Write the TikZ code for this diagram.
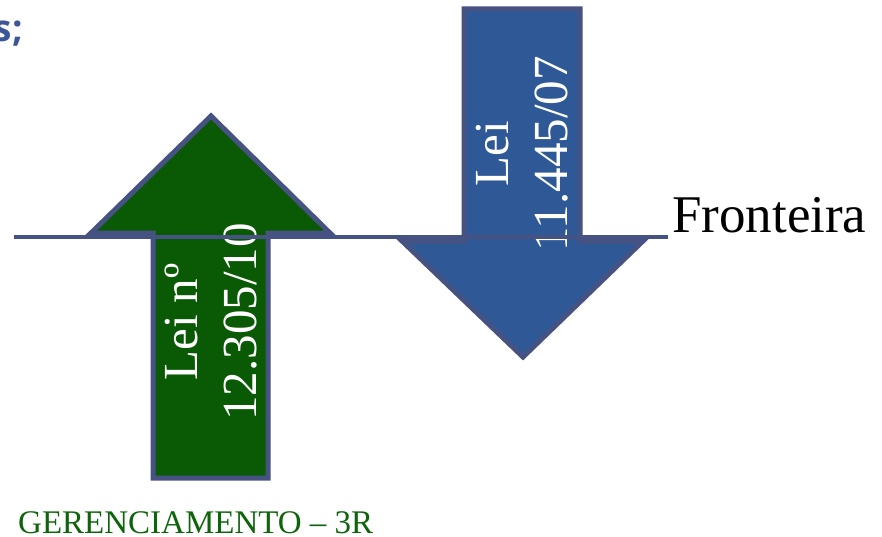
\documentclass[tikz,border=0pt]{standalone}
\usepackage{fontspec}
\setmainfont{Liberation Serif}
\newfontfamily\headsans{Open Sans}
\definecolor{lgreen}{RGB}{10,90,5}
\definecolor{lblue}{RGB}{47,89,150}
\definecolor{ledge}{RGB}{70,83,130}
\definecolor{ltitle}{RGB}{61,86,152}
\definecolor{lfoot}{RGB}{14,100,10}
\begin{document}
\begin{tikzpicture}[x=1pt,y=-1pt,
  arrowshape/.style={draw=ledge,line width=5pt,line join=miter},
  lawtext/.style={rotate=90,text=white,align=center,font=\fontsize{49}{59}\selectfont,inner sep=0pt},
  borderline/.style={draw=ledge,line width=4.5pt}]
\useasboundingbox (0,0) rectangle (882,537);
\clip (0,0) rectangle (882,537);
% green up arrow
\fill[lgreen] (153,478) -- (153,233) -- (91,233) -- (211,116) -- (330,233) -- (268,233) -- (268,478) -- cycle;
\draw[arrowshape] (153,478) -- (153,233) -- (91,233) -- (211,116) -- (330,233) -- (268,233) -- (268,478) -- cycle;
% blue down arrow
\fill[lblue] (464,9) -- (580,9) -- (580,241) -- (643,241) -- (523,357) -- (402,241) -- (464,241) -- cycle;
\draw[arrowshape] (464,9) -- (580,9) -- (580,241) -- (643,241) -- (523,357) -- (402,241) -- (464,241) -- cycle;
% texts in arrows
\node[lawtext] (leiverde) at (211,322) {Lei nº\\12.305/10};
\node[lawtext] (leiazul) at (522,154) {Lei\\11.445/07};
% frontier line
\coordinate (fl) at (14,237);
\coordinate (fr) at (668,237);
\draw[borderline] (fl) -- (fr);
\node[anchor=base west,inner sep=0pt,font=\fontsize{53}{62}\selectfont] (fronteira) at (672,232) {Fronteira};
\node[anchor=base west,inner sep=0pt,text=lfoot,font=\fontsize{33}{38}\selectfont] (rodape) at (18,533) {GERENCIAMENTO – 3R};
\node[anchor=base east,inner sep=0pt,text=ltitle,font=\headsans\bfseries\fontsize{37}{44}\selectfont] (titulo) at (23,42) {s;};
\end{tikzpicture}
\end{document}
